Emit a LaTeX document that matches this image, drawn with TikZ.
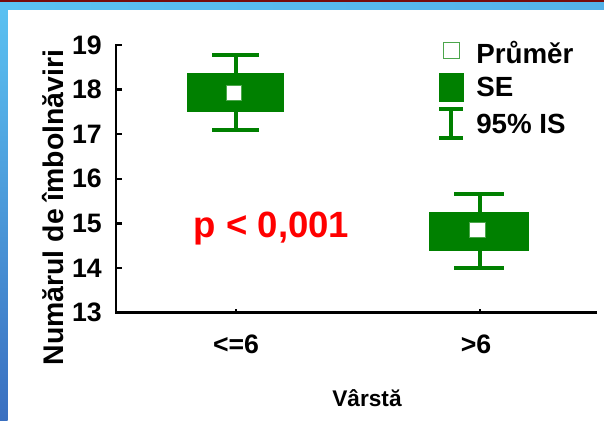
\documentclass[tikz,border=0pt]{standalone}
\usepackage{fontspec}
\setmainfont{Liberation Sans}
\definecolor{grafgreen}{RGB}{0,128,0}
\definecolor{pred}{RGB}{255,0,0}
\definecolor{lightblue}{RGB}{91,194,242}
\definecolor{darkblue}{RGB}{58,111,192}
\definecolor{topred}{RGB}{120,10,10}

\begin{document}
\begin{tikzpicture}[x=0.75pt,y=-0.75pt,
    every node/.style={inner sep=0pt,font=\bfseries},
    axisline/.style={line width=1.8pt,line cap=rect},
    cibar/.style={draw=grafgreen,line width=3pt},
    sebox/.style={fill=grafgreen},
    meanpt/.style={fill=white,draw=grafgreen!70,line width=0.5pt},
    ticklabel/.style={anchor=east,font=\bfseries\fontsize{20}{24}\selectfont},
    catlabel/.style={font=\bfseries\fontsize{20}{24}\selectfont},
    legtext/.style={anchor=base west,font=\bfseries\fontsize{20.8}{24}\selectfont}]
    \useasboundingbox (0,0) rectangle (604,421);
    % frame of the slide
    \fill[white] (0,0) rectangle (604,421);
    \shade[top color=lightblue,bottom color=darkblue] (0,2) rectangle (7.5,421);
    \shade[left color=lightblue,right color=lightblue!80!darkblue] (0,2) rectangle (604,9);
    \fill[topred] (0,0) rectangle (604,2);

    % axes
    \coordinate (O) at (115.7,312.6);
    \coordinate (Ytop) at (115.7,45);
    \coordinate (Xend) at (596,312.6);
    \draw[axisline] (Ytop) -- (O) -- (Xend);
    \foreach \v in {13,...,19} {
        \pgfmathsetmacro{\ty}{312.6-(\v-13)*44.6}
        \draw[axisline] (115.7,\ty) -- ++(5,0);
        \node (t\v) [ticklabel] at (102,\ty) {\v};
    }
    \coordinate (Xa) at (236,312.6);
    \coordinate (Xb) at (480,312.6);
    \draw[line width=1.2pt] (Xa) -- ++(0,-4);
    \draw[line width=1.2pt] (Xb) -- ++(0,-4);
    \node (cata) [catlabel] at (236,344) {<=6};
    \node (catb) [catlabel] at (476,344) {>6};
    \node (xlab) [anchor=base,font=\bfseries\fontsize{17}{20}\selectfont] at (367,406.5) {Vârstă};
    \node (ylab) [anchor=base,rotate=90,font=\bfseries\fontsize{21.3}{25}\selectfont] at (63,207.5) {Numărul de îmbolnăviri};

    % group <=6
    \draw[cibar] (235.5,55.3) -- (235.5,130);
    \draw[cibar] (212,55.3) -- (259,55.3);
    \draw[cibar] (212,130) -- (259,130);
    \fill[sebox] (187,73) rectangle (284,112);
    \filldraw[meanpt] (226,85.5) rectangle (241,100.5);

    % group >6
    \draw[cibar] (479.5,193.6) -- (479.5,268);
    \draw[cibar] (454,193.6) -- (504,193.6);
    \draw[cibar] (454,268) -- (504,268);
    \fill[sebox] (428.7,211.5) rectangle (529.3,250.5);
    \filldraw[meanpt] (469,222) rectangle (485,237.4);

    \node (pval) [anchor=base,text=pred,font=\bfseries\fontsize{27.4}{32}\selectfont] at (271.5,237) {p < 0,001};

    % legend
    \filldraw[meanpt] (443.3,42.3) rectangle (459.3,58.3);
    \fill[sebox] (439,72.7) rectangle (464,101.7);
    \draw[cibar] (451.3,109.3) -- (451.3,138);
    \draw[cibar] (439.3,109.3) -- (463.3,109.3);
    \draw[cibar] (439.3,138) -- (463.3,138);
    \node (lgmean) [legtext] at (476,63.3) {Průměr};
    \node (lgse) [legtext] at (476,96.7) {SE};
    \node (lgci) [legtext] at (476,133.3) {95\% IS};
\end{tikzpicture}
\end{document}
